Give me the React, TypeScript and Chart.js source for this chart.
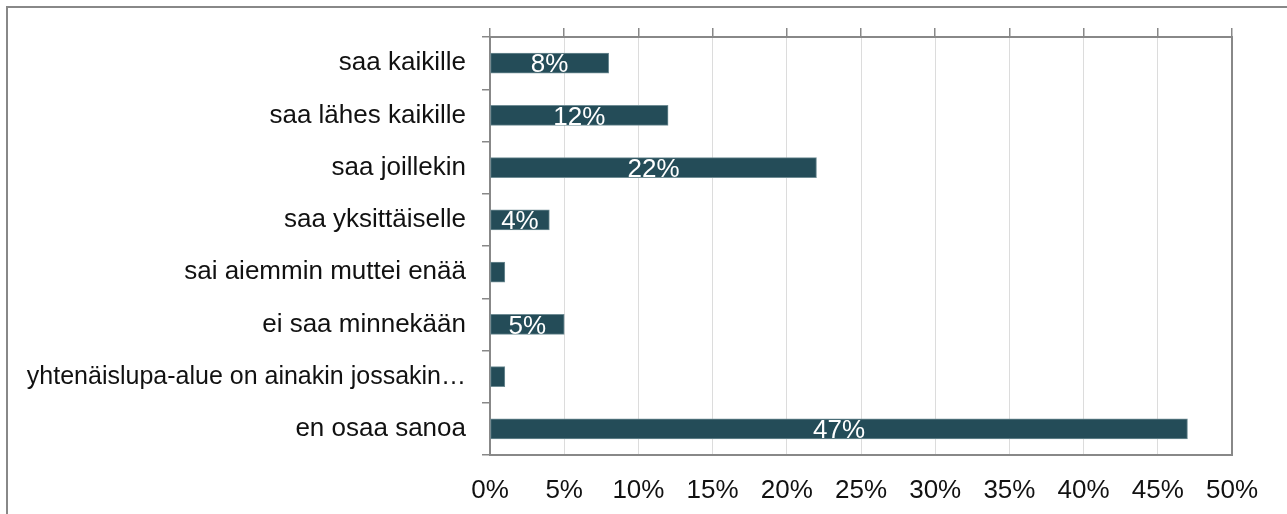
import React, { useEffect, useRef } from "react";
import { Chart, registerables } from "chart.js";

Chart.register(...registerables);

const categories: string[] = [
  "saa kaikille",
  "saa lähes kaikille",
  "saa joillekin",
  "saa yksittäiselle",
  "sai aiemmin muttei enää",
  "ei saa minnekään",
  "yhtenäislupa-alue on ainakin jossakin…",
  "en osaa sanoa",
];
const values: number[] = [8, 12, 22, 4, 1, 5, 1, 47];
const xTickMin = 0;
const xTickMax = 50;
const xTickStep = 5;

const FONT = "'Liberation Sans', Arial, sans-serif";
const BAR = "#244c58";
const AXIS = "#888888";

const barLabels = {
  id: "barLabels",
  afterDatasetsDraw(chart: any) {
    const ctx = chart.ctx;
    const meta = chart.getDatasetMeta(0);
    ctx.save();
    ctx.fillStyle = "#ffffff";
    ctx.font = `26px ${FONT}`;
    ctx.textAlign = "center";
    ctx.textBaseline = "middle";
    meta.data.forEach((el: any, i: number) => {
      const v = values[i];
      if (v < 2) return;
      const cx = (el.x + el.base) / 2;
      ctx.fillText(`${v}%`, cx, el.y + 2);
    });
    ctx.restore();
  },
};

export default function App() {
  const ref = useRef<HTMLCanvasElement | null>(null);
  useEffect(() => {
    if (!ref.current) return;
    const chart = new Chart(ref.current, {
      type: "bar",
      data: {
        labels: categories,
        datasets: [
          {
            data: values,
            backgroundColor: BAR,
            borderColor: "#6f8c94",
            borderWidth: 1,
            borderSkipped: false,
            barThickness: 20,
            xAxisID: "x",
            yAxisID: "y",
          },
        ],
      },
      options: {
        indexAxis: "y",
        animation: false,
        responsive: false,
        maintainAspectRatio: false,
        layout: { padding: { top: 0, right: 55, bottom: 0, left: 0 } },
        plugins: {
          legend: { display: false },
          tooltip: { enabled: false },
        },
        scales: {
          x: {
            type: "linear",
            position: "bottom",
            min: xTickMin,
            max: xTickMax,
            ticks: {
              stepSize: xTickStep,
              callback: (v: any) => `${v}%`,
              font: { family: FONT, size: 26 },
              color: "#111111",
              padding: 20,
              maxRotation: 0,
            },
            grid: { color: "#dcdcdc", lineWidth: 1, drawTicks: false },
            border: { color: AXIS, width: 2 },
            afterFit: (s: any) => {
              s.height = 59;
            },
          },
          x2: {
            type: "linear",
            position: "top",
            min: xTickMin,
            max: xTickMax,
            ticks: { stepSize: xTickStep, display: false },
            grid: {
              drawOnChartArea: false,
              drawTicks: true,
              tickLength: 9,
              color: AXIS,
              lineWidth: 1.5,
            },
            border: { color: AXIS, width: 2 },
            afterFit: (s: any) => {
              s.height = 37;
            },
          },
          y: {
            type: "category",
            position: "left",
            ticks: {
              font: (c: any) => ({
                family: FONT,
                size: categories[c.index] && categories[c.index].length > 30 ? 25 : 26,
              }),
              color: "#111111",
              padding: 16,
              autoSkip: false,
            },
            grid: {
              offset: true,
              drawOnChartArea: false,
              drawTicks: true,
              tickLength: 8,
              color: AXIS,
              lineWidth: 1.5,
            },
            border: { color: AXIS, width: 2 },
            afterFit: (s: any) => {
              s.width = 490;
            },
          },
          y2: {
            type: "linear",
            position: "right",
            ticks: { display: false },
            grid: { display: false },
            border: { display: true, color: AXIS, width: 2 },
            afterFit: (s: any) => {
              s.width = 0;
            },
          },
        },
      },
      plugins: [barLabels],
    });
    return () => chart.destroy();
  }, []);

  return (
    <div
      style={{
        position: "fixed",
        left: 0,
        top: 0,
        width: 1287,
        height: 514,
        overflow: "hidden",
        background: "#ffffff",
      }}
    >
      <div
        style={{
          position: "absolute",
          left: 6,
          top: 6,
          width: 1400,
          height: 700,
          border: `2px solid ${AXIS}`,
          boxSizing: "border-box",
        }}
      />
      <canvas
        ref={ref}
        width={1287}
        height={514}
        style={{ position: "absolute", left: 0, top: 0, width: 1287, height: 514 }}
      />
    </div>
  );
}
